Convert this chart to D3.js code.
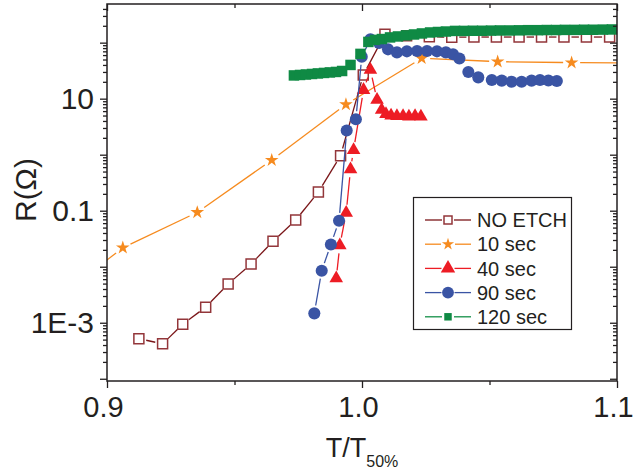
<!DOCTYPE html>
<html>
<head>
<meta charset="utf-8">
<script src="https://cdn.jsdelivr.net/npm/d3@7"></script>
<style>
  html, body { margin: 0; padding: 0; background: #fff; }
  svg { display: block; font-family: "Liberation Sans", Arial, Helvetica, sans-serif; }
</style>
</head>
<body>
<svg id="chart" width="633" height="472"></svg>
<script>
// Resistance versus reduced temperature T/T50% for different etching times.
const noEtchT = [0.9125, 0.9218, 0.9297, 0.9387, 0.9475, 0.9565, 0.9651, 0.9740, 0.9829, 0.9916,
                 1.0005, 1.0090, 1.0175, 1.0264, 1.0352, 1.0439, 1.0527, 1.0616, 1.0704, 1.0792, 1.0880, 1.0971];
const noEtchR = [5.2e-4, 4.2e-4, 9.4e-4, 1.9e-3, 4.9e-3, 0.0112, 0.0284, 0.068, 0.216, 0.96,
                 26.5, 141, 133, 128, 125, 126, 126, 126, 126, 126, 126, 126];

const etch10T = [0.885, 0.9062, 0.9354, 0.9646, 0.9937, 1.0234, 1.0532, 1.0822, 1.110];
const etch10R = [3.9e-3, 0.0218, 0.0936, 0.80, 7.9, 52.6, 45.8, 44.0, 43.5];

const etch40T = [0.9899, 0.9913, 0.9938, 0.9955, 0.9967, 1.0006, 1.0033, 1.0059, 1.0077, 1.0094,
                 1.0114, 1.0137, 1.0161, 1.0184, 1.0208, 1.0231];
const etch40R = [6.2e-3, 0.024, 0.092, 0.55, 1.21, 14.3, 32.6, 9.5, 6.3, 5.3,
                 5.0, 4.9, 4.9, 4.8, 4.9, 4.8];

const etch90T = [0.9813, 0.9842, 0.9878, 0.9910, 0.9940, 0.9976, 0.9999, 1.0033, 1.0067, 1.0102,
                 1.0137, 1.0176, 1.0216, 1.0255, 1.0294, 1.0329, 1.0357, 1.0382, 1.0417, 1.0456,
                 1.0509, 1.0548, 1.0587, 1.0626, 1.0665, 1.0698, 1.0731, 1.0764];
const etch90R = [1.47e-3, 8.5e-3, 0.025, 0.066, 2.7, 4.3, 56, 115, 99, 76,
                 67, 70, 71, 71, 70, 67, 62, 52, 30, 24,
                 21.6, 21, 20.1, 20.1, 21, 21.6, 21.1, 20.7];

const etch120T = [0.9733, 0.9757, 0.9780, 0.9804, 0.9827, 0.9851, 0.9874, 0.9898, 0.9922, 0.9955,
                  0.9994, 1.0025, 1.0051, 1.0078, 1.0110, 1.0141, 1.0173, 1.0204, 1.0235, 1.0267,
                  1.0298, 1.0329, 1.0365, 1.0400, 1.0435, 1.0471, 1.0506, 1.0541, 1.0580, 1.0616,
                  1.0651, 1.0690, 1.0725, 1.0761, 1.0796, 1.0835, 1.0871, 1.0906, 1.0945, 1.0980];
const etch120R = [26, 26.5, 27, 27.6, 28.2, 28.8, 29.4, 30, 31.2, 40,
                  63, 103, 112, 116, 124, 129, 135, 140, 146, 152,
                  155, 158, 162, 162, 163, 163, 164, 165, 165, 166,
                  167, 167, 168, 168, 169, 169, 170, 170, 171, 172];

const seriesNames = ["NO ETCH", "10 sec", "40 sec", "90 sec", "120 sec"];

const xTicks = [0.9, 1.0, 1.1];
const xTickLabels = ["0.9", "1.0", "1.1"];
const xMinorTicks = [0.95, 1.05];
const yLabelledTicks = [10, 0.1, 0.001];
const yTickLabels = ["10", "0.1", "1E-3"];
const yDecades = [1e-4, 1e-3, 1e-2, 1e-1, 1, 10, 100];

// ---- layout ----
const plot = { left: 107, right: 617, top: 4, bottom: 381 };
const ink = "#231f20";

const x = d3.scaleLinear().domain([0.9, 1.1]).range([plot.left, plot.right]);
const y = d3.scaleLog().domain([Math.pow(10, -4.04), Math.pow(10, 2.69)]).range([plot.bottom, plot.top]);

const svg = d3.select("#chart");

const series = [
  { name: seriesNames[0], t: noEtchT, r: noEtchR, line: "#7a1518", stroke: "#93363a", fill: "#ffffff",
    symbol: d3.symbolSquare, size: 100, legendSize: 64, strokeW: 1.5, gap: 7.5 },
  { name: seriesNames[1], t: etch10T, r: etch10R, line: "#f68b1f", stroke: "none", fill: "#f68b1f",
    symbol: d3.symbolStar, size: 58, legendSize: 46, strokeW: 0, gap: 8.5 },
  { name: seriesNames[2], t: etch40T, r: etch40R, line: "#ed1c24", stroke: "none", fill: "#ed1c24",
    symbol: d3.symbolTriangle, size: 80, legendSize: 90, strokeW: 0, gap: 8 },
  { name: seriesNames[3], t: etch90T, r: etch90R, line: "#3a54a4", stroke: "none", fill: "#3a54a4",
    symbol: d3.symbolCircle, size: 115, legendSize: 110, strokeW: 0, gap: 8 },
  { name: seriesNames[4], t: etch120T, r: etch120R, line: "#138f47", stroke: "none", fill: "#0f8a44",
    symbol: d3.symbolSquare, size: 110, legendSize: 56, strokeW: 0, gap: 7.5 }
];

// clip for connecting lines
svg.append("defs").append("clipPath").attr("id", "plotClip")
  .append("rect")
  .attr("x", plot.left).attr("y", plot.top)
  .attr("width", plot.right - plot.left).attr("height", plot.bottom - plot.top);

// connecting lines broken around each marker
function gappedSegments(pts, gap) {
  const segs = [];
  for (let i = 0; i < pts.length - 1; i++) {
    const a = pts[i], b = pts[i + 1];
    const dx = b.px - a.px, dy = b.py - a.py, d = Math.hypot(dx, dy);
    const g1 = a.marked ? gap : 0, g2 = b.marked ? gap : 0;
    if (d <= g1 + g2 + 0.5) continue;
    const ux = dx / d, uy = dy / d;
    segs.push({ x1: a.px + ux * g1, y1: a.py + uy * g1, x2: b.px - ux * g2, y2: b.py - uy * g2 });
  }
  return segs;
}

const dataLayer = svg.append("g");

series.forEach(s => {
  const pts = s.t.map((t, i) => ({
    px: x(t), py: y(s.r[i]),
    marked: t >= 0.9 && t <= 1.1
  }));
  const g = dataLayer.append("g");
  g.append("g").attr("clip-path", "url(#plotClip)")
    .selectAll("line").data(gappedSegments(pts, s.gap)).join("line")
    .attr("x1", d => d.x1).attr("y1", d => d.y1)
    .attr("x2", d => d.x2).attr("y2", d => d.y2)
    .attr("stroke", s.line).attr("stroke-width", 1.3);
  g.append("g").selectAll("path").data(pts.filter(p => p.marked)).join("path")
    .attr("transform", d => `translate(${d.px},${d.py})`)
    .attr("d", d3.symbol().type(s.symbol).size(s.size))
    .attr("fill", s.fill)
    .attr("stroke", s.stroke)
    .attr("stroke-width", s.strokeW);
});

// ---- axes ----
function styleAxis(g) {
  g.select(".domain").remove();
  g.selectAll(".tick line").attr("stroke", ink).attr("stroke-width", 1.3);
  g.selectAll(".tick text").attr("fill", ink).attr("font-size", 30)
    .attr("font-family", "'Liberation Sans', Arial, Helvetica, sans-serif");
}

const yMinor = [];
yDecades.forEach(d => { for (let k = 2; k <= 9; k++) { const v = d * k; if (y(v) >= plot.top) yMinor.push(v); } });

const labelFor = v => {
  const i = yLabelledTicks.findIndex(t => Math.abs(Math.log10(t) - Math.log10(v)) < 1e-6);
  return i >= 0 ? yTickLabels[i] : "";
};

// bottom
svg.append("g").attr("transform", `translate(0,${plot.bottom})`)
  .call(d3.axisBottom(x).tickValues(xTicks).tickSize(7).tickPadding(8)
        .tickFormat((d, i) => xTickLabels[i]))
  .call(styleAxis)
  .call(g => g.selectAll(".tick text").attr("font-size", 29).attr("dx", -4));
svg.append("g").attr("transform", `translate(0,${plot.bottom})`)
  .call(d3.axisBottom(x).tickValues(xMinorTicks).tickSize(4).tickFormat(""))
  .call(styleAxis);
// top (mirrored, pointing into the plot)
svg.append("g").attr("transform", `translate(0,${plot.top})`)
  .call(d3.axisBottom(x).tickValues(xTicks).tickSize(7).tickFormat(""))
  .call(styleAxis);
svg.append("g").attr("transform", `translate(0,${plot.top})`)
  .call(d3.axisBottom(x).tickValues(xMinorTicks).tickSize(4).tickFormat(""))
  .call(styleAxis);
// left
svg.append("g").attr("transform", `translate(${plot.left},0)`)
  .call(d3.axisLeft(y).tickValues(yDecades).tickSize(7).tickPadding(6).tickFormat(labelFor))
  .call(styleAxis);
svg.append("g").attr("transform", `translate(${plot.left},0)`)
  .call(d3.axisLeft(y).tickValues(yMinor).tickSize(4).tickFormat(""))
  .call(styleAxis);
// right (mirrored, pointing into the plot)
svg.append("g").attr("transform", `translate(${plot.right},0)`)
  .call(d3.axisLeft(y).tickValues(yDecades).tickSize(7).tickFormat(""))
  .call(styleAxis);
svg.append("g").attr("transform", `translate(${plot.right},0)`)
  .call(d3.axisLeft(y).tickValues(yMinor).tickSize(4).tickFormat(""))
  .call(styleAxis);

// frame
svg.append("rect")
  .attr("x", plot.left).attr("y", plot.top)
  .attr("width", plot.right - plot.left).attr("height", plot.bottom - plot.top)
  .attr("fill", "none").attr("stroke", ink).attr("stroke-width", 1.5);

// axis titles
svg.append("text")
  .attr("transform", "translate(36,190) rotate(-90)")
  .attr("text-anchor", "middle").attr("font-size", 30).attr("fill", ink)
  .text("R(Ω)");

const xt = svg.append("text")
  .attr("x", 362).attr("y", 457)
  .attr("text-anchor", "middle").attr("font-size", 27).attr("fill", ink);
xt.append("tspan").text("T/T");
xt.append("tspan").attr("font-size", 16).attr("dy", 10).text("50%");

// ---- legend ----
const legend = svg.append("g");
legend.append("rect")
  .attr("x", 413.5).attr("y", 197.5).attr("width", 158).attr("height", 132)
  .attr("fill", "#fff").attr("stroke", ink).attr("stroke-width", 1.2);

series.forEach((s, i) => {
  const cy = 220 + i * 24.2;
  const row = legend.append("g").attr("transform", `translate(0,${cy})`);
  const lg = s.gap - 1.5;
  row.append("line").attr("x1", 425).attr("x2", 448 - lg).attr("y1", 0).attr("y2", 0)
    .attr("stroke", s.line).attr("stroke-width", 1.3);
  row.append("line").attr("x1", 448 + lg).attr("x2", 471).attr("y1", 0).attr("y2", 0)
    .attr("stroke", s.line).attr("stroke-width", 1.3);
  row.append("path").attr("transform", "translate(448,0)")
    .attr("d", d3.symbol().type(s.symbol).size(s.legendSize))
    .attr("fill", s.fill).attr("stroke", s.stroke).attr("stroke-width", s.strokeW);
  row.append("text").attr("x", 477).attr("y", 0).attr("dy", "0.36em")
    .attr("font-size", 20).attr("fill", ink).text(s.name);
});
</script>
</body>
</html>
